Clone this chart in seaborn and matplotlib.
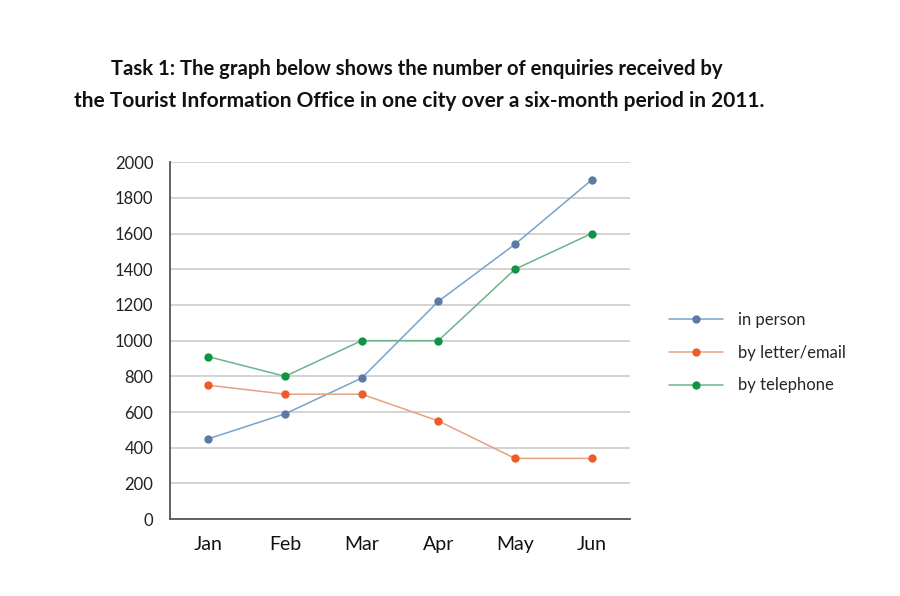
import matplotlib
matplotlib.use("Agg")
import matplotlib.pyplot as plt
import seaborn as sns
import pandas as pd
from matplotlib.lines import Line2D

months = ["Jan", "Feb", "Mar", "Apr", "May", "Jun"]
in_person = [450, 590, 790, 1220, 1540, 1900]
by_letter = [750, 700, 700, 550, 340, 340]
by_phone = [910, 800, 1000, 1000, 1400, 1600]
series_names = ["in person", "by letter/email", "by telephone"]
yticks = [0, 200, 400, 600, 800, 1000, 1200, 1400, 1600, 1800, 2000]

sns.set_theme(style="white")
plt.rcParams['font.family'] = ['Lato', 'DejaVu Sans']

df = pd.DataFrame({
    "month": months * 3,
    "x": list(range(len(months))) * 3,
    "value": in_person + by_letter + by_phone,
    "series": [series_names[0]] * 6 + [series_names[1]] * 6 + [series_names[2]] * 6,
})

line_colors = {"in person": "#7aa3c8", "by letter/email": "#e5a283", "by telephone": "#6cb48c"}
marker_colors = {"in person": "#5b7ba6", "by letter/email": "#ef5a27", "by telephone": "#0f9443"}

fig = plt.figure(figsize=(9, 5.96), dpi=100)
ax = fig.add_axes([0.189, 0.129, 0.511, 0.599])

sns.lineplot(data=df, x="x", y="value", hue="series", palette=line_colors,
             linewidth=1.1, ax=ax, legend=False)
for name in series_names:
    sub = df[df.series == name]
    ax.scatter(sub["x"], sub["value"], s=36, color=marker_colors[name], zorder=5, linewidths=0)

ax.set_xlim(-0.5, 5.5)
ax.set_ylim(0, 2000)
ax.set_yticks(yticks)
ax.set_yticklabels([str(t) for t in yticks], fontsize=12, color="#222222")
ax.set_xticks(range(len(months)))
ax.set_xticklabels(months, fontsize=14, color="#111111")
ax.tick_params(axis="y", length=0, pad=12)
ax.tick_params(axis="x", length=0, pad=12)
ax.set_xlabel("")
ax.set_ylabel("")
ax.yaxis.grid(True, color="#c8c8c8", linewidth=1.1)
ax.xaxis.grid(False)
ax.set_axisbelow(True)
for s in ["top", "right"]:
    ax.spines[s].set_visible(False)
ax.spines["left"].set_color("#555555")
ax.spines["bottom"].set_color("#555555")
ax.spines["left"].set_linewidth(1.3)
ax.spines["bottom"].set_linewidth(1.3)

handles = [Line2D([0], [0], color=line_colors[n], lw=1.1, marker="o", markersize=6,
                  markerfacecolor=marker_colors[n], markeredgewidth=0) for n in series_names]
fig.legend(handles, series_names, loc="center left", bbox_to_anchor=(0.727, 0.408),
           frameon=False, fontsize=12, handlelength=3.2, labelspacing=1.0, handletextpad=0.9)

fig.text(0.463, 0.885, "Task 1: The graph below shows the number of enquiries received by",
         ha="center", va="center", fontsize=14.6, fontweight="bold", color="#111111")
fig.text(0.466, 0.831, "the Tourist Information Office in one city over a six-month period in 2011.",
         ha="center", va="center", fontsize=15, fontweight="bold", color="#111111")

fig.savefig("out.png", dpi=100)
